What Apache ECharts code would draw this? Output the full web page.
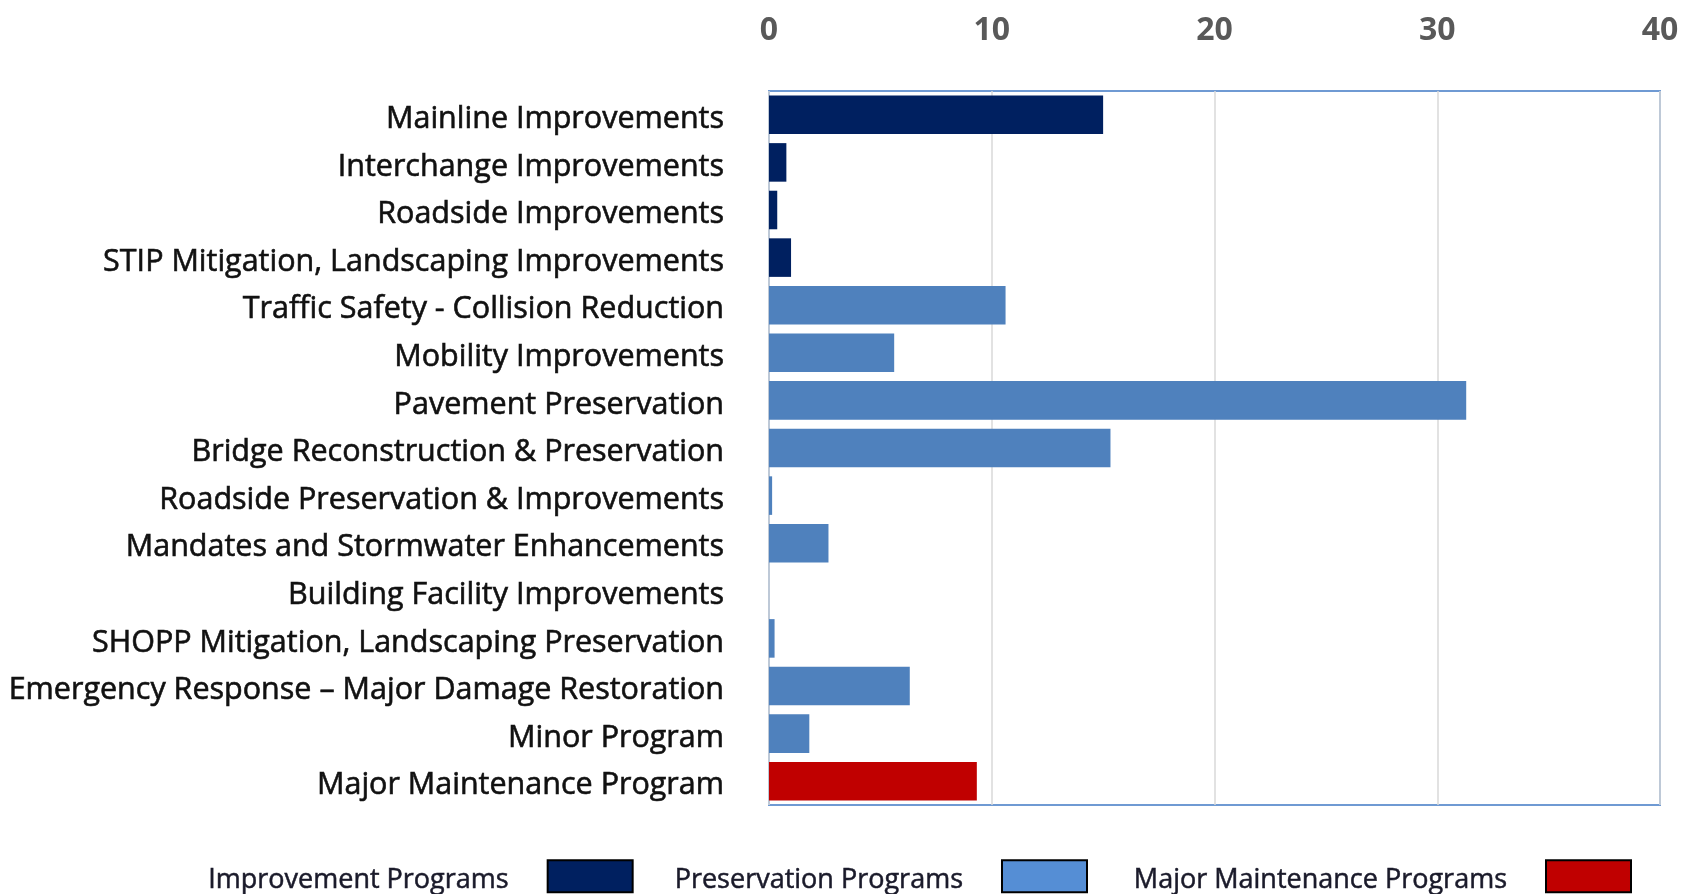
<!DOCTYPE html>
<html>
<head>
<meta charset="utf-8">
<script src="https://cdn.jsdelivr.net/npm/echarts@6/dist/echarts.min.js"></script>
<style>
html,body{margin:0;padding:0;background:#fff;}
#chart{width:1699px;height:894px;}
</style>
</head>
<body>
<div id="chart"></div>
<script>
const categories = [
  'Mainline Improvements',
  'Interchange Improvements',
  'Roadside Improvements',
  'STIP Mitigation, Landscaping Improvements',
  'Traffic Safety - Collision Reduction',
  'Mobility Improvements',
  'Pavement Preservation',
  'Bridge Reconstruction & Preservation',
  'Roadside Preservation & Improvements',
  'Mandates and Stormwater Enhancements',
  'Building Facility Improvements',
  'SHOPP Mitigation, Landscaping Preservation',
  'Emergency Response \u2013 Major Damage Restoration',
  'Minor Program',
  'Major Maintenance Program'
];
const values = [15.0, 0.78, 0.37, 0.99, 10.62, 5.62, 31.3, 15.33, 0.14, 2.67, 0, 0.25, 6.32, 1.81, 9.33];
const groups = ['imp','imp','imp','imp','pres','pres','pres','pres','pres','pres','pres','pres','pres','pres','maint'];
const groupNames = {imp: 'Improvement Programs', pres: 'Preservation Programs', maint: 'Major Maintenance Programs'};
const xTicks = [0, 10, 20, 30, 40];

const barColors = {imp: '#002060', pres: '#4F81BD', maint: '#C00000'};
const legendColors = {imp: '#002060', pres: '#558ED5', maint: '#C00000'};
const legendPos = {imp: {left: 203, width: 300}, pres: {left: 667, width: 291}, maint: {left: 1124, width: 378}};

const chart = echarts.init(document.getElementById('chart'), null, {renderer: 'canvas'});
const keys = ['imp', 'pres', 'maint'];
const series = keys.map(k => ({
  name: groupNames[k],
  type: 'bar',
  stack: 'all',
  barCategoryGap: '19%',
  data: values.map((v, i) => groups[i] === k ? v : '-'),
  itemStyle: {color: barColors[k]},
  animation: false
}));

const legends = keys.map(k => ({
  show: true,
  left: legendPos[k].left,
  top: 853,
  orient: 'horizontal',
  align: 'right',
  itemWidth: 85,
  itemHeight: 32,
  icon: 'rect',
  selectedMode: false,
  formatter: name => '\n' + name,
  data: [{name: groupNames[k], itemStyle: {color: legendColors[k], borderColor: '#000', borderWidth: 2}}],
  textStyle: {
    fontFamily: 'Open Sans',
    fontSize: 27,
    lineHeight: 9,
    color: '#1a1a2a',
    textBorderColor: '#1a1a2a',
    textBorderWidth: 0.5,
    width: legendPos[k].width,
    padding: [0, 34, 0, 0]
  }
}));

chart.setOption({
  backgroundColor: '#ffffff',
  animation: false,
  grid: {
    left: 769, right: 39, top: 91, height: 714,
    show: true, borderColor: '#6F9AD3', borderWidth: 2, backgroundColor: 'transparent'
  },
  legend: legends,
  xAxis: {
    type: 'value',
    position: 'top',
    min: 0, max: 40, interval: 10,
    axisLine: {show: false},
    axisTick: {show: false},
    splitLine: {show: true, lineStyle: {color: '#D9D9D9', width: 1.5}},
    axisLabel: {
      margin: 44,
      fontFamily: 'Open Sans',
      fontWeight: 'bold',
      fontSize: 32,
      color: '#595959',
      formatter: v => xTicks.indexOf(v) >= 0 ? String(v) : ''
    }
  },
  yAxis: {
    type: 'category',
    inverse: true,
    data: categories,
    axisLine: {show: false},
    axisTick: {show: false},
    splitLine: {show: false},
    axisLabel: {
      margin: 45,
      fontFamily: 'Open Sans',
      fontSize: 30.5,
      color: '#111111',
      textBorderColor: '#111111',
      textBorderWidth: 0.6,
      verticalAlign: 'top',
      lineHeight: 9
    }
  },
  series: series
});
</script>
</body>
</html>
